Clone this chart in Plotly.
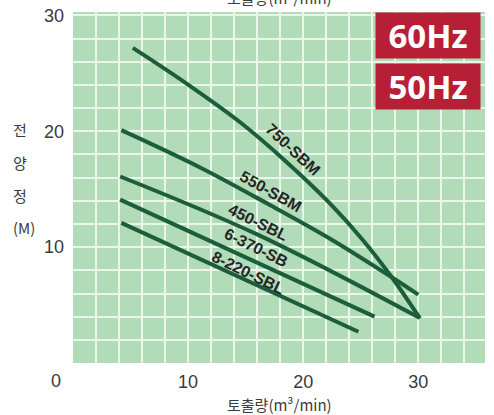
import plotly.graph_objects as go

# ---- data ----
x_750 = [5.2, 9.9, 14.5, 18.5, 22.3, 25.2, 27.7, 30.15]
y_750 = [27.2, 24.1, 20.8, 17.4, 13.8, 10.6, 7.4, 3.85]
x_550 = [4.2, 11.0, 17.0, 22.3, 27.7, 30.0]
y_550 = [20.1, 16.9, 13.7, 10.75, 7.4, 5.9]
x_450 = [4.1, 16.0, 30.1]
y_450 = [16.1, 11.1, 3.9]
x_370 = [4.1, 26.2]
y_370 = [14.1, 4.0]
x_220 = [4.2, 24.8]
y_220 = [12.1, 2.7]

series = [
    ("750-SBM", x_750, y_750),
    ("550-SBM", x_550, y_550),
    ("450-SBL", x_450, y_450),
    ("6-370-SB", x_370, y_370),
    ("8-220-SBL", x_220, y_220),
]

# label anchor points (data coords) and angles
label_names = ["750-SBM", "550-SBM", "450-SBL", "6-370-SB", "8-220-SBL"]
label_x = [19.1, 17.2, 16.1, 15.9, 15.2]
label_y = [18.4, 14.8, 12.1, 10.0, 7.8]
label_angle = [43, 29, 26, 26, 26]

x_ticks = [10, 20, 30]
y_ticks = [10, 20, 30]
y_title_chars = ["전", "양", "정", "(M)"]
x_title = "토출량(m³/min)"
hz_labels = ["60Hz", "50Hz"]

LINE = "#1c5e3c"
BG = "#b2dbb8"
GRID = "#eaf6e8"
TXT = "#3a3a3a"

fig = go.Figure()
for name, xs, ys in series:
    fig.add_trace(go.Scatter(x=xs, y=ys, mode="lines", name=name,
                             line=dict(color=LINE, width=4, shape="spline", smoothing=1.0),
                             showlegend=False, hoverinfo="skip"))

for n, lx, ly, ang in zip(label_names, label_x, label_y, label_angle):
    fig.add_annotation(x=lx, y=ly, text="<b>" + n + "</b>", showarrow=False, textangle=ang,
                       font=dict(family="Liberation Sans", size=16, color="#262626"),
                       xref="x", yref="y")

fig.update_layout(
    width=494, height=415,
    margin=dict(l=73, r=9, t=12, b=52),
    paper_bgcolor="white", plot_bgcolor=BG,
    font=dict(family="Liberation Sans", color=TXT),
    xaxis=dict(range=[0, 35.8], tickvals=x_ticks, ticktext=[str(v) for v in x_ticks],
               showgrid=True, gridcolor=GRID, gridwidth=1.5, zeroline=False,
               showline=False, ticks="", tickfont=dict(size=18, color=TXT),
               ticklabelstandoff=6, automargin=False,
               minor=dict(dtick=2, showgrid=True, gridcolor=GRID, gridwidth=1.5)),
    yaxis=dict(range=[0, 30.3], tickvals=y_ticks, ticktext=[str(v) for v in y_ticks],
               showgrid=True, gridcolor=GRID, gridwidth=1.5, zeroline=False,
               showline=False, ticks="", tickfont=dict(size=18, color=TXT),
               ticklabelstandoff=8, automargin=False,
               minor=dict(dtick=2, showgrid=True, gridcolor=GRID, gridwidth=1.5)),
)

# origin label "0"
fig.add_annotation(xref="paper", yref="paper", x=-0.058, y=-0.052, text="0",
                   showarrow=False, font=dict(size=18, color=TXT), yanchor="middle")

# y-axis title, stacked vertically
for i, ch in enumerate(y_title_chars):
    fig.add_annotation(xref="paper", yref="paper", x=-0.15, y=0.664 - i * 0.093,
                       text=ch, showarrow=False,
                       font=dict(family="Noto Sans CJK KR", size=15, color=TXT))

# x-axis title bottom and (cut) top
fig.add_annotation(xref="paper", yref="paper", x=0.5, y=-0.117, text=x_title,
                   showarrow=False, yanchor="middle",
                   font=dict(family="Noto Sans CJK KR", size=15, color=TXT))
fig.add_annotation(xref="paper", yref="paper", x=0.5, y=1.04, text=x_title,
                   showarrow=False, yanchor="middle",
                   font=dict(family="Noto Sans CJK KR", size=15, color=TXT))

# Hz badges
for i, t in enumerate(hz_labels):
    fig.add_annotation(xref="paper", yref="paper", x=0.99, y=1.0 - i * 0.146,
                       xanchor="right", yanchor="top", text="<b>" + t + "</b>",
                       showarrow=False, bgcolor="#b71f36", width=102, height=43,
                       font=dict(family="Open Sans", size=33, color="white"))

fig.write_html("out.html", config={"displayModeBar": False},
               post_script="document.body.style.margin='0';")
